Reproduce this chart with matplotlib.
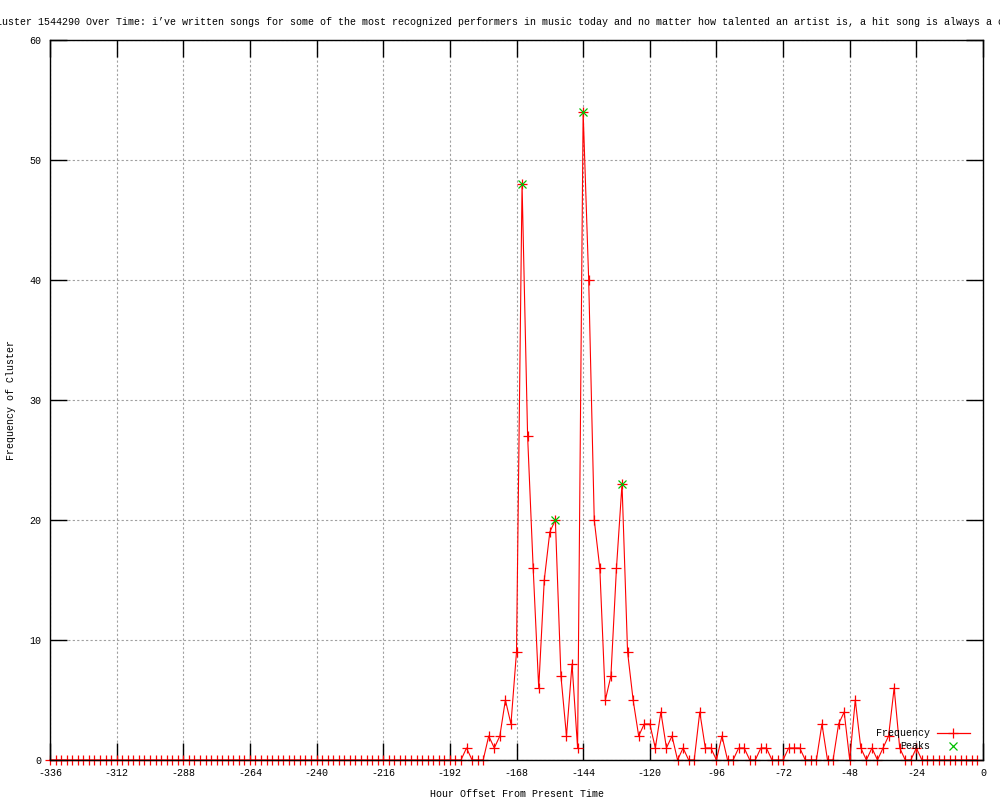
import numpy as np
import matplotlib
matplotlib.use("Agg")
import matplotlib.pyplot as plt

# ---- data ----
hours = list(range(-336, 0, 2))
nonzero = {
    -186: 1, -178: 2, -176: 1, -174: 2, -172: 5, -170: 3, -168: 9,
    -166: 48, -164: 27, -162: 16, -160: 6, -158: 15, -156: 19, -154: 20,
    -152: 7, -150: 2, -148: 8, -146: 1, -144: 54, -142: 40, -140: 20,
    -138: 16, -136: 5, -134: 7, -132: 16, -130: 23, -128: 9, -126: 5,
    -124: 2, -122: 3, -120: 3, -118: 1, -116: 4, -114: 1, -112: 2,
    -108: 1, -102: 4, -100: 1, -98: 1, -94: 2, -88: 1, -86: 1,
    -80: 1, -78: 1, -70: 1, -68: 1, -66: 1, -58: 3, -52: 3, -50: 4,
    -46: 5, -44: 1, -40: 1, -36: 1, -34: 2, -32: 6, -30: 1, -24: 1,
}
frequency = [nonzero.get(h, 0) for h in hours]
peak_hours = [-166, -154, -144, -130]
peak_values = [48, 20, 54, 23]

title = ("Cluster 1544290 Over Time: i\u2019ve written songs for some of the most "
         "recognized performers in music today and no matter how talented an "
         "artist is, a hit song is always a co")
xlabel = "Hour Offset From Present Time"
ylabel = "Frequency of Cluster"
xticks = list(range(-336, 1, 24))
yticks = list(range(0, 61, 10))

# ---- style ----
mono = ["Liberation Mono", "DejaVu Sans Mono"]
plt.rcParams["font.family"] = mono
fs = 7.2

fig = plt.figure(figsize=(10, 8), dpi=100)
ax = fig.add_axes([0.05, 0.05, 0.933, 0.9])

ax.plot(hours, frequency, color="#ff0000", lw=0.8, marker="+", ms=6.5,
        mew=0.9, clip_on=False, zorder=2)
ax.plot(peak_hours, peak_values, ls="none", color="#00c000", marker="x",
        ms=5.5, mew=0.9, clip_on=False, zorder=3)

ax.set_xlim(-336, 0)
ax.set_ylim(0, 60)
ax.set_xticks(xticks)
ax.set_yticks(yticks)
ax.set_xticklabels([str(t) for t in xticks], fontsize=fs)
ax.set_yticklabels([str(t) for t in yticks], fontsize=fs)
ax.tick_params(direction="in", length=12, width=1, top=True, right=True,
               labeltop=False, labelright=False, pad=6, color="black")
ax.grid(True, color="#a0a0a0", ls=(0, (2, 2)), lw=0.8)
for s in ax.spines.values():
    s.set_linewidth(1)
    s.set_color("black")
    s.set_zorder(2.5)

ax.set_xlabel(xlabel, fontsize=fs, labelpad=8)
ax.set_ylabel(ylabel, fontsize=fs, labelpad=10)

fig.text(0.5, 1 - 22 / 800, title, ha="center", va="center", fontsize=fs)

# legend (gnuplot style, right-aligned labels)
tx = (930 - 50) / 933
ax.text(tx, (760 - 733) / 720, "Frequency", transform=ax.transAxes,
        ha="right", va="center", fontsize=fs)
ax.text(tx, (760 - 746) / 720, "Peaks", transform=ax.transAxes,
        ha="right", va="center", fontsize=fs)
lx0, lx1, lxc = (937 - 50) / 933, (970 - 50) / 933, (953 - 50) / 933
ax.plot([lx0, lx1], [(760 - 733) / 720] * 2, transform=ax.transAxes,
        color="#ff0000", lw=0.9, clip_on=False)
ax.plot([lxc], [(760 - 733) / 720], transform=ax.transAxes, color="#ff0000",
        marker="+", ms=6.5, mew=0.9, clip_on=False)
ax.plot([lxc], [(760 - 746) / 720], transform=ax.transAxes, color="#00c000",
        marker="x", ms=5.5, mew=0.9, clip_on=False)

fig.savefig("out.png", dpi=100)
